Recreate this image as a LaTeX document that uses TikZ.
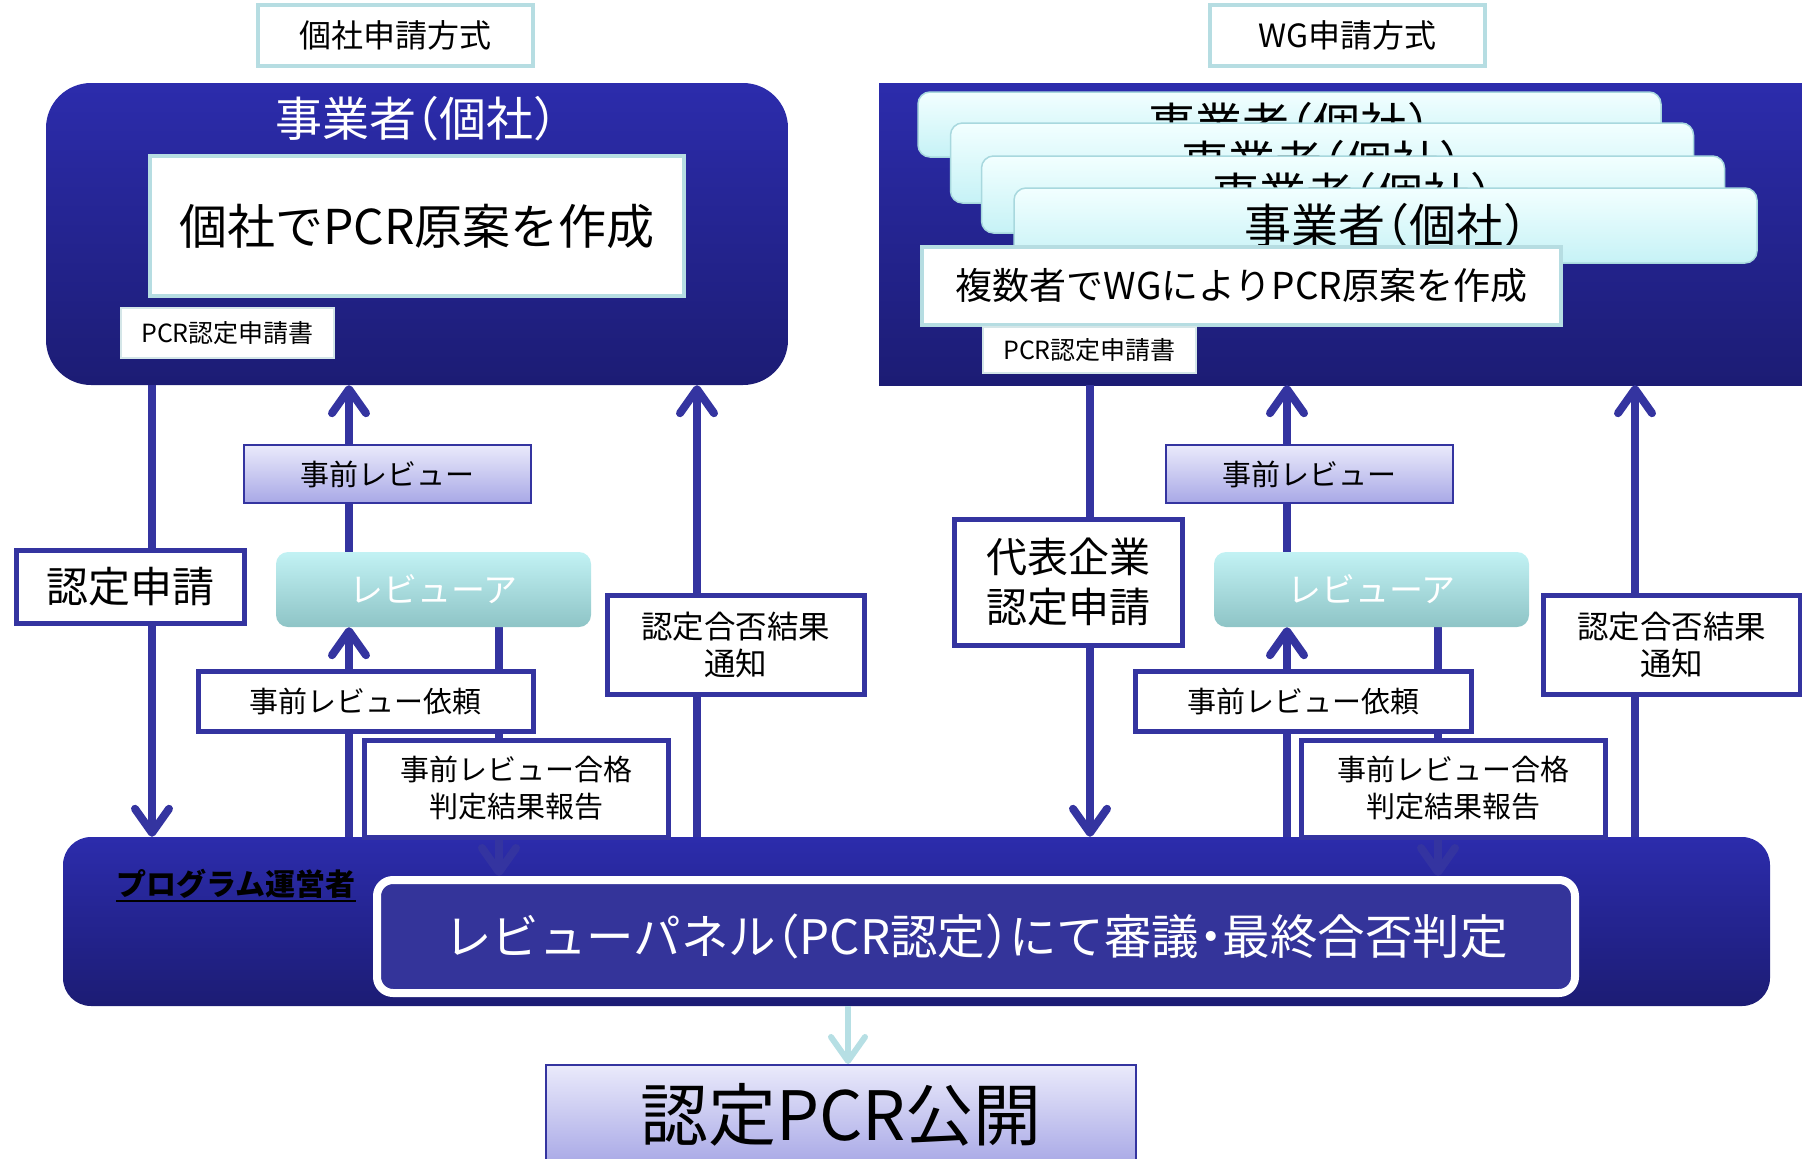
\documentclass[tikz,border=0pt]{standalone}
\usepackage{fontspec}
\setmainfont{Noto Sans CJK JP}
\newfontfamily\halfpunct[RawFeature=+halt]{Noto Sans CJK JP}
\usetikzlibrary{arrows.meta,positioning}

\definecolor{navyline}{HTML}{3434A0}
\definecolor{navytop}{HTML}{2C2CAC}
\definecolor{navybot}{HTML}{1C1C74}
\definecolor{paleteal}{HTML}{B6DDE2}
\definecolor{paleline}{HTML}{D4E6E8}
\definecolor{cardtop}{HTML}{F2FFFF}
\definecolor{cardbot}{HTML}{C6F2F6}
\definecolor{cardline}{HTML}{A8D8DE}
\definecolor{lavtop}{HTML}{EAEAFB}
\definecolor{lavbot}{HTML}{A8A8E6}
\definecolor{tealtop}{HTML}{C2F2F4}
\definecolor{tealbot}{HTML}{8EC4C6}
\definecolor{panelfill}{HTML}{34349A}
\definecolor{pubarrow}{HTML}{B6DFE4}

\newcommand\ulname[1]{\vtop{\hbox{#1}\kern1pt\hrule height 2.5pt}}

\pgfdeclarelayer{back}
\pgfdeclarelayer{lines}
\pgfsetlayers{back,lines,main}

\begin{document}
\begin{tikzpicture}[x=1pt, y=-1pt,
  >={Straight Barb[round, length=24pt, width=34pt]},
  flowline/.style={draw=navyline, line width=8pt},
  titlebox/.style={draw=paleteal, line width=4pt, fill=white, inner sep=0pt,
    minimum width=275pt, minimum height=61pt, font=\fontsize{32}{38}\selectfont},
  bigbox/.style={top color=navytop, bottom color=navybot, draw=none, inner sep=0pt},
  draftbox/.style={draw=paleteal, line width=4pt, fill=white, inner sep=0pt},
  formbox/.style={draw=paleline, line width=2pt, fill=white, inner sep=0pt,
    minimum width=213pt, font=\fontsize{25}{30}\selectfont},
  cardbox/.style={draw=cardline, line width=1.5pt, top color=cardtop,
    bottom color=cardbot, rounded corners=12pt, minimum width=743pt,
    inner sep=0pt, font=\halfpunct\fontsize{47}{52}\selectfont},
  linebox/.style={draw=navyline, line width=5pt, fill=white, inner sep=0pt,
    align=center},
  prebox/.style={draw=navyline, line width=2pt, top color=lavtop,
    bottom color=lavbot, minimum width=287pt, minimum height=58pt,
    inner sep=0pt, font=\fontsize{29}{35}\selectfont},
  reviewbox/.style={top color=tealtop, bottom color=tealbot, draw=none,
    rounded corners=12pt, minimum width=315pt, minimum height=75pt,
    text=white, font=\fontsize{34}{40}\selectfont}]
  \useasboundingbox (0,0) rectangle (1802,1159);

  % x positions of the flow lines
  \coordinate (xA) at (152,0);
  \coordinate (xB) at (349,0);
  \coordinate (xD) at (499,0);
  \coordinate (xE) at (697,0);
  \coordinate (xF) at (1090,0);
  \coordinate (xG) at (1287,0);
  \coordinate (xI) at (1438,0);
  \coordinate (xJ) at (1635,0);
  \coordinate (xP) at (848,0);

  \node[titlebox] (modeL) at (395,35.5) {個社申請方式};
  \node[titlebox] (modeR) at (1347.5,35.5) {WG申請方式};

  \begin{pgfonlayer}{back}
    \node[bigbox, rounded corners=45pt, minimum width=742pt,
      minimum height=302pt] (bigL) at (417,234) {};
    \node[bigbox, minimum width=923pt, minimum height=302pt] (bigR)
      at (1340.5,234) {};
    \node[bigbox, rounded corners=28pt, minimum width=1707pt,
      minimum height=169pt] (prog) at (916.5,921.5) {};
    \node[inner sep=0pt, font=\bfseries\fontsize{30}{34}\selectfont]
      (progname) at (236,886) {\ulname{プログラム運営者}};
  \end{pgfonlayer}

  % single company
  \node[text=white, font=\halfpunct\fontsize{47}{52}\selectfont] (ownerL)
    at (416,119) {事業者（個社）};
  \node[draftbox, minimum width=534pt, minimum height=140pt,
    font=\fontsize{48}{56}\selectfont] (draftL) at (417,226)
    {個社でPCR原案を作成};
  \node[formbox, minimum height=50pt] (formL) at (227.5,333) {PCR認定申請書};

  % working group
  \node[cardbox, minimum height=65pt] (card1) at (1289.5,124.5) {事業者（個社）};
  \node[cardbox, minimum height=80pt] (card2) at (1322,163) {事業者（個社）};
  \node[cardbox, minimum height=77pt] (card3) at (1353,194.5) {事業者（個社）};
  \node[cardbox, minimum height=75pt] (card4) at (1385.5,225.5) {事業者（個社）};
  \node[draftbox, minimum width=639pt, minimum height=78pt,
    font=\fontsize{37}{44}\selectfont] (draftR) at (1241.5,286)
    {複数者でWGによりPCR原案を作成};
  \node[formbox, minimum height=46pt] (formR) at (1089.5,350) {PCR認定申請書};

  % review steps, left
  \node[linebox, minimum width=228pt, minimum height=73pt,
    font=\fontsize{42}{50}\selectfont] (applyL) at (130,586.5) {認定申請};
  \node[prebox] (preL) at (387.5,474) {事前レビュー};
  \node[reviewbox] (revL) at (433.5,589.5) {レビューア};
  \node[linebox, minimum width=335pt, minimum height=60pt,
    font=\fontsize{29}{35}\selectfont] (reqL) at (365.5,701) {事前レビュー依頼};
  \node[linebox, minimum width=304pt, minimum height=97pt,
    font=\fontsize{29}{37}\selectfont] (reportL) at (516,788.5)
    {事前レビュー合格\\判定結果報告};
  \node[linebox, minimum width=257pt, minimum height=99pt,
    font=\fontsize{31.5}{37}\selectfont] (resultL) at (735.5,644.5)
    {認定合否結果\\通知};

  % review steps, right
  \node[linebox, minimum width=228pt, minimum height=126pt,
    font=\fontsize{41}{50}\selectfont] (applyR) at (1068,582)
    {代表企業\\認定申請};
  \node[prebox] (preR) at (1309.5,474) {事前レビュー};
  \node[reviewbox] (revR) at (1371.5,589.5) {レビューア};
  \node[linebox, minimum width=336pt, minimum height=60pt,
    font=\fontsize{29}{35}\selectfont] (reqR) at (1303,701) {事前レビュー依頼};
  \node[linebox, minimum width=304pt, minimum height=97pt,
    font=\fontsize{29}{37}\selectfont] (reportR) at (1453,788.5)
    {事前レビュー合格\\判定結果報告};
  \node[linebox, minimum width=257pt, minimum height=99pt,
    font=\fontsize{31.5}{37}\selectfont] (resultR) at (1671.5,644.5)
    {認定合否結果\\通知};

  % review panel and publication
  \node[draw=white, line width=8pt, fill=panelfill, rounded corners=16pt,
    minimum width=1198pt, minimum height=113pt, text=white,
    font=\halfpunct\fontsize{47.5}{52}\selectfont] (panel) at (976,936.5)
    {レビューパネル（PCR認定）にて審議・最終合否判定};
  \node[draw=navyline, line width=2pt, top color=lavtop, bottom color=lavbot,
    minimum width=590pt, minimum height=100pt,
    font=\fontsize{68}{76}\selectfont] (pub) at (841,1115) {認定PCR公開};

  \begin{pgfonlayer}{lines}
    \draw[flowline, ->] (bigL.south -| xA) -- (prog.north -| xA);
    \draw[flowline, ->] (revL.north -| xB) -- (bigL.south -| xB);
    \draw[flowline, ->] (prog.north -| xB) -- (revL.south -| xB);
    \draw[flowline, ->] (revL.south -| xD) -- (panel.north -| xD);
    \draw[flowline, ->] (prog.north -| xE) -- (bigL.south -| xE);
    \draw[flowline, ->] (bigR.south -| xF) -- (prog.north -| xF);
    \draw[flowline, ->] (revR.north -| xG) -- (bigR.south -| xG);
    \draw[flowline, ->] (prog.north -| xG) -- (revR.south -| xG);
    \draw[flowline, ->] (revR.south -| xI) -- (panel.north -| xI);
    \draw[flowline, ->] (prog.north -| xJ) -- (bigR.south -| xJ);
    \draw[draw=pubarrow, line width=6pt, ->] (prog.south -| xP) -- (pub.north -| xP);
  \end{pgfonlayer}
\end{tikzpicture}
\end{document}
